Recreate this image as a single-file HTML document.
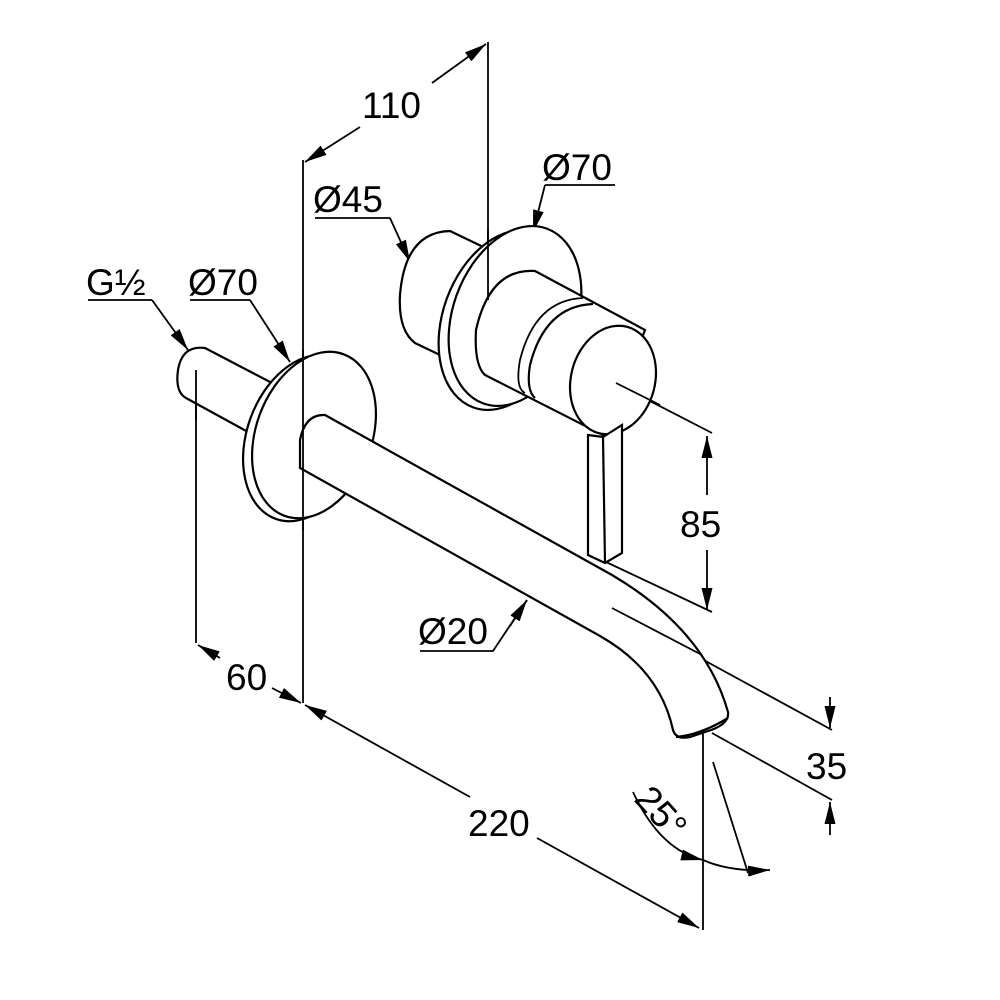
<!DOCTYPE html>
<html><head><meta charset="utf-8"><style>
html,body{margin:0;padding:0;background:#fff}
svg{display:block}
text{font-family:"Liberation Sans",Arial,sans-serif;font-size:37px;fill:#000}
</style></head><body>
<svg width="1000" height="1000" viewBox="0 0 1000 1000" xmlns="http://www.w3.org/2000/svg">
<defs>
<marker id="a" viewBox="0 0 20 10" refX="20" refY="5" markerWidth="22" markerHeight="11" markerUnits="userSpaceOnUse" orient="auto"><path d="M0,0 L20,5 L0,10 z" fill="#000"/></marker>
</defs>
<g fill="none" stroke="#000" stroke-width="1.8">
<line x1="303" y1="160" x2="303" y2="703"/>
<line x1="488" y1="42" x2="488" y2="300"/>
<line x1="196" y1="370" x2="196" y2="643"/>
<line x1="703" y1="733" x2="703" y2="930"/>
<line x1="360" y1="127" x2="305" y2="162" marker-end="url(#a)"/>
<line x1="432" y1="83" x2="486" y2="44" marker-end="url(#a)"/>
<line x1="220" y1="658" x2="198" y2="645" marker-end="url(#a)"/>
<line x1="272" y1="688" x2="301" y2="703" marker-end="url(#a)"/>
<line x1="470" y1="797" x2="305" y2="705" marker-end="url(#a)"/>
<line x1="537" y1="838" x2="699" y2="928" marker-end="url(#a)"/>
<line x1="615" y1="383" x2="712" y2="433"/>
<line x1="606" y1="562" x2="712" y2="612"/>
<line x1="707" y1="495" x2="707" y2="436" marker-end="url(#a)"/>
<line x1="707" y1="550" x2="707" y2="610" marker-end="url(#a)"/>
<line x1="612" y1="610" x2="832" y2="730"/>
<line x1="712" y1="733" x2="832" y2="800"/>
<line x1="830" y1="697" x2="830" y2="728" marker-end="url(#a)"/>
<line x1="830" y1="835" x2="830" y2="802" marker-end="url(#a)"/>
<line x1="713" y1="762" x2="748" y2="873"/>
<path d="M633,792 Q660,850 703,860" marker-end="url(#a)"/>
<path d="M703,860 Q730,872 770,870" marker-end="url(#a)"/>
<polyline points="545,185 615,185"/>
<line x1="545" y1="185" x2="533" y2="232" marker-end="url(#a)"/>
<polyline points="315,218 390,218"/>
<line x1="390" y1="218" x2="410" y2="262" marker-end="url(#a)"/>
<polyline points="88,300 152,300"/>
<line x1="152" y1="300" x2="188" y2="350" marker-end="url(#a)"/>
<polyline points="190,300 250,300"/>
<line x1="250" y1="300" x2="290" y2="362" marker-end="url(#a)"/>
<polyline points="420,651 493,651 527,600" />
<line x1="510" y1="626" x2="527" y2="600" marker-end="url(#a)"/>
</g>
<g fill="#fff" stroke="#000" stroke-width="2.2">
<path d="M205,348 L272,383 L248,432 L186,398 Q175,392 178,370 Q182,345 205,348 Z"/>
<ellipse cx="305" cy="438" rx="58" ry="86" transform="rotate(20 305 438)"/>
<ellipse cx="314" cy="435" rx="58" ry="86" transform="rotate(20 314 435)"/>
<path d="M300,440 Q305,414 325,415 L612,575 Q705,630 728,712 Q730,725 705,732 L690,737 Q676,740 673,730 Q660,670 600,636 L300,468 Z"/>
<path d="M676,737 Q700,735 728,718" fill="none"/>
<!-- back cylinder 45 -->
<path d="M450,231 L500,255 L470,360 L440,355 L415,343 Q398,330 400,295 Q405,232 450,231 Z"/>
<!-- right flange -->
<ellipse cx="505" cy="320" rx="62" ry="93" transform="rotate(20 505 320)"/>
<ellipse cx="515" cy="316" rx="62" ry="93" transform="rotate(20 515 316)"/>
<!-- body -->
<path d="M535,271 L645,330 L605,436 L485,375 Q474,365 476,330 Q490,268 535,271 Z"/>
<path d="M583,298 Q535,300 520,360 Q515,388 525,393" fill="none" stroke-width="1.8"/>
<path d="M593,304 Q545,306 530,365 Q526,390 535,398" fill="none"/>
<ellipse cx="613" cy="380" rx="42" ry="55" transform="rotate(15 613 380)"/>
<path d="M588,435 L603,437 L622,425 L622,553 L605,563 L588,555 Z"/>
<line x1="603" y1="437" x2="605" y2="563"/>
</g>
<line x1="616" y1="383" x2="660" y2="405" stroke="#000" stroke-width="1.8"/>
<line x1="488" y1="230" x2="488" y2="300" stroke="#000" stroke-width="1.8"/>
<line x1="196" y1="370" x2="196" y2="420" stroke="#000" stroke-width="1.8"/>
<line x1="303" y1="350" x2="303" y2="530" stroke="#000" stroke-width="1.8"/>
<line x1="612" y1="608" x2="702" y2="655" stroke="#000" stroke-width="1.8"/>
<text x="362" y="118">110</text>
<text x="542" y="180">Ø70</text>
<text x="313" y="212">Ø45</text>
<text x="86" y="295">G½</text>
<text x="188" y="295">Ø70</text>
<text x="418" y="644">Ø20</text>
<text x="226" y="690">60</text>
<text x="468" y="836">220</text>
<text x="680" y="537">85</text>
<text x="806" y="779">35</text>
<text x="0" y="0" transform="translate(633,800) rotate(48)">25°</text>
</svg>
</body></html>
